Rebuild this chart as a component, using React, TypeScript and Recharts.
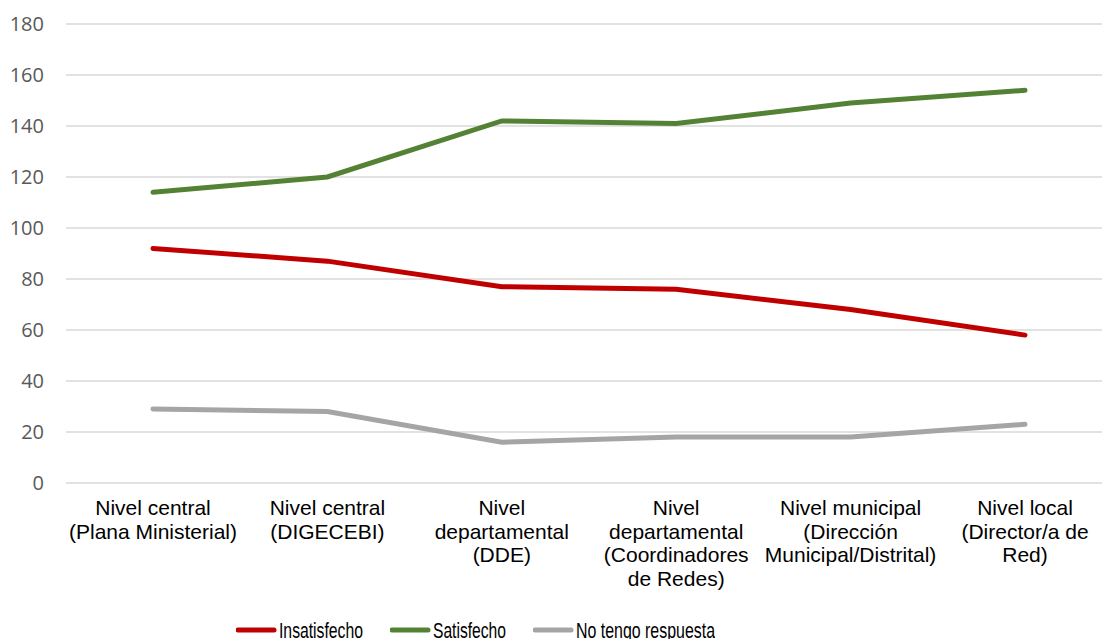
import { CartesianGrid, Legend, Line, LineChart, XAxis, YAxis } from 'recharts'

const categories = [
  'Nivel central\n(Plana Ministerial)',
  'Nivel central\n(DIGECEBI)',
  'Nivel\ndepartamental\n(DDE)',
  'Nivel\ndepartamental\n(Coordinadores\nde Redes)',
  'Nivel municipal\n(Dirección\nMunicipal/Distrital)',
  'Nivel local\n(Director/a de\nRed)',
]
const insatisfecho = [92, 87, 77, 76, 68, 58]
const satisfecho = [114, 120, 142, 141, 149, 154]
const sinRespuesta = [29, 28, 16, 18, 18, 23]
const yTicks = [0, 20, 40, 60, 80, 100, 120, 140, 160, 180]

const series = [
  { key: 'insatisfecho', name: 'Insatisfecho', color: '#C00000', textWidth: 84 },
  { key: 'satisfecho', name: 'Satisfecho', color: '#548235', textWidth: 73 },
  { key: 'sinRespuesta', name: 'No tengo respuesta', color: '#A5A5A5', textWidth: 139 },
]

const data = categories.map((nivel, i) => ({
  nivel,
  insatisfecho: insatisfecho[i],
  satisfecho: satisfecho[i],
  sinRespuesta: sinRespuesta[i],
}))

function CategoryTick({ x, y, payload }: any) {
  const lines = String(payload.value).split('\n')
  return (
    <text x={x} y={y} textAnchor="middle" fill="#000" fontSize={21} fontFamily="'Liberation Sans', Arial, sans-serif">
      {lines.map((line, i) => (
        <tspan key={i} x={x} dy={i === 0 ? 24 : 23.5}>
          {line}
        </tspan>
      ))}
    </text>
  )
}

// legend text in the original is a condensed Arial, so squeeze each label to its width
function LegendContent() {
  return (
    <div style={{ display: 'flex', paddingLeft: 236, gap: 27 }}>
      {series.map((s) => (
        <svg key={s.key} width={43 + s.textWidth} height={24} style={{ display: 'block' }}>
          <line x1={2} y1={12} x2={38} y2={12} stroke={s.color} strokeWidth={5} strokeLinecap="round" />
          <text
            x={43}
            y={19.5}
            fontSize={22}
            fill="#000"
            fontFamily="'Liberation Sans', Arial, sans-serif"
            textLength={s.textWidth}
            lengthAdjust="spacingAndGlyphs"
          >
            {s.name}
          </text>
        </svg>
      ))}
    </div>
  )
}

export default function App() {
  return (
    <div style={{ position: 'absolute', left: 0, top: 0, width: 1102, height: 639, overflow: 'hidden', background: '#fff' }}>
      <LineChart width={1120} height={639} data={data} margin={{ top: 24, right: 8, left: 0, bottom: 0 }}>
        <CartesianGrid stroke="#D9D9D9" strokeWidth={1.5} vertical={false} />
        <XAxis
          dataKey="nivel"
          axisLine={false}
          tickLine={false}
          interval={0}
          height={120}
          padding={{ left: 87, right: 87 }}
          tick={<CategoryTick />}
        />
        <YAxis
          width={66}
          domain={[0, 180]}
          ticks={yTicks}
          axisLine={false}
          tickLine={false}
          tickMargin={16}
          tick={{ fill: '#595959', fontSize: 20, fontFamily: "'Open Sans', sans-serif" }}
        />
        <Legend
          verticalAlign="bottom"
          height={36}
          wrapperStyle={{ left: 0, width: 1120, bottom: -15 }}
          content={<LegendContent />}
        />
        {series.map((s) => (
          <Line
            key={s.key}
            type="linear"
            dataKey={s.key}
            name={s.name}
            stroke={s.color}
            strokeWidth={5}
            strokeLinecap="round"
            dot={false}
            activeDot={false}
            isAnimationActive={false}
          />
        ))}
      </LineChart>
    </div>
  )
}
